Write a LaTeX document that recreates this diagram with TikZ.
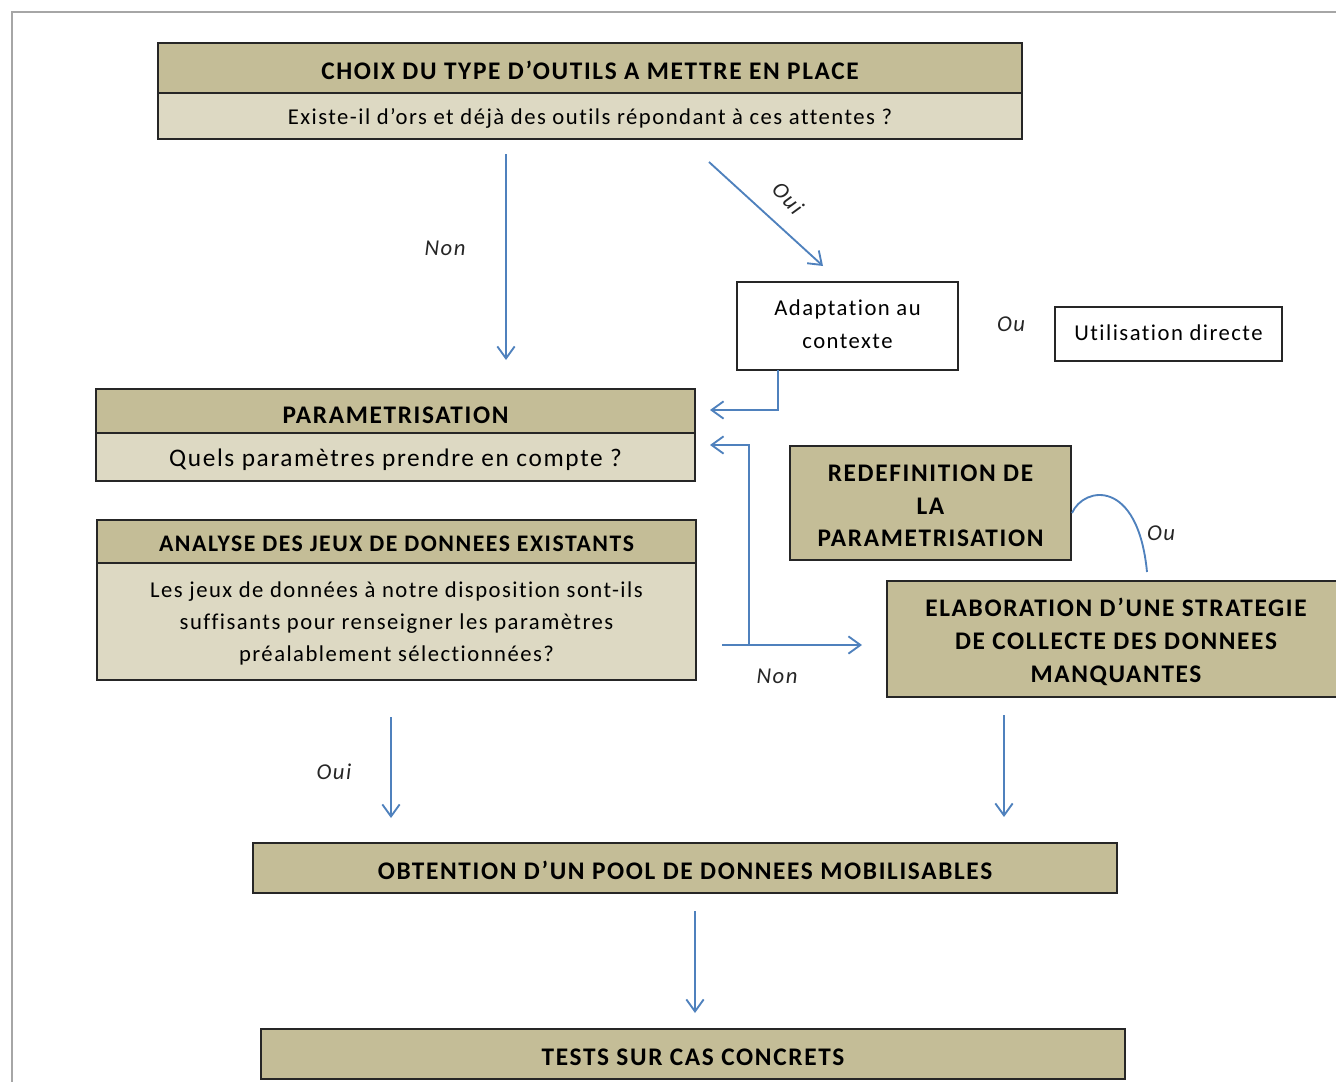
\documentclass[tikz,border=0pt]{standalone}
\usepackage{fontspec}
\setmainfont{Carlito}[LetterSpace=6.5,Ligatures=NoCommon]
\usetikzlibrary{arrows.meta,calc}
\definecolor{tanD}{HTML}{C4BD97}
\definecolor{tanL}{HTML}{DDD9C3}
\definecolor{arrblue}{HTML}{4F81BD}
\definecolor{framegray}{HTML}{A6A6A6}
% name, box style, text style, x1, y1, x2, y2, text y-offset (px), text
\newcommand\mybox[9]{%
  \pgfmathsetmacro\bw{(#6-#4)*0.75}%
  \pgfmathsetmacro\bh{(#7-#5)*0.75}%
  \node[#2, minimum width=\bw pt, minimum height=\bh pt] (#1) at ({(#4+#6)/2},{(#5+#7)/2}) {};
  \node[#3] (#1-t) at ($(#1.center)+(0,#8)$) {#9};}
\tikzset{
  box/.style={draw=black!85, line width=1.4pt, inner sep=0pt, outer sep=0pt},
  hdr/.style={box, fill=tanD},
  sub/.style={box, fill=tanL},
  wbox/.style={box, fill=white},
  hdrT/.style={align=center, inner sep=0pt, font=\fontsize{19}{24.5}\selectfont\bfseries},
  hdrST/.style={align=center, inner sep=0pt, font=\fontsize{17.8}{22}\selectfont\bfseries},
  subT/.style={align=center, inner sep=0pt, font=\fontsize{17}{23.8}\selectfont},
  subLT/.style={align=center, inner sep=0pt, font=\fontsize{19}{24}\selectfont},
  wT/.style={align=center, inner sep=0pt, font=\fontsize{17}{24.8}\selectfont},
  arr/.style={draw=arrblue, line width=1.4pt, -{Straight Barb[length=9pt,width=13pt,line width=1.4pt]}},
  blueline/.style={draw=arrblue, line width=1.4pt},
  lbl/.style={font=\fontsize{17}{20}\selectfont\itshape, text=black!85, inner sep=1pt}
}
\begin{document}
\begin{tikzpicture}[x=0.75pt,y=-0.75pt]
\useasboundingbox (0,0) rectangle (1336,1082);
\draw[framegray, line width=1.5pt] (12,1082) -- (12,12) -- (1336,12);

\mybox{choixH}{hdr}{hdrT}{158}{43}{1022}{93}{2}{CHOIX DU TYPE D’OUTILS A METTRE EN PLACE}
\mybox{choixB}{sub}{subT}{158}{93}{1022}{139}{2}{Existe-il d’ors et déjà des outils répondant à ces attentes ?}
\mybox{adapt}{wbox}{wT}{737}{282}{958}{370}{-1.5}{Adaptation au\\contexte}
\mybox{util}{wbox}{wT}{1055}{307}{1282}{361}{-1}{Utilisation directe}
\node[lbl] (ou1) at (1011,324) {Ou};
\mybox{paramH}{hdr}{hdrT}{96}{389}{695}{433}{4}{PARAMETRISATION}
\mybox{paramB}{sub}{subLT}{96}{433}{695}{481}{3}{Quels paramètres prendre en compte ?}
\mybox{redef}{hdr}{hdrT}{790}{446}{1071}{560}{3}{REDEFINITION DE\\LA\\PARAMETRISATION}
\mybox{anaH}{hdr}{hdrST}{97}{520}{696}{563}{2}{ANALYSE DES JEUX DE DONNEES EXISTANTS}
\mybox{anaB}{sub}{subT}{97}{563}{696}{680}{2}{Les jeux de données à notre disposition sont-ils\\suffisants pour renseigner les paramètres\\préalablement sélectionnées?}
\mybox{elab}{hdr}{hdrT}{887}{581}{1345}{697}{3}{ELABORATION D’UNE STRATEGIE\\DE COLLECTE DES DONNEES\\MANQUANTES}
\mybox{obt}{hdr}{hdrT}{253}{843}{1117}{893}{2}{OBTENTION D’UN POOL DE DONNEES MOBILISABLES}
\mybox{tests}{hdr}{hdrT}{261}{1029}{1125}{1079}{3}{TESTS SUR CAS CONCRETS}

% connectors
\coordinate (a1s) at (506,154); \coordinate (a1e) at (506,360);
\draw[arr] (a1s) -- (a1e);
\node[lbl] (non1) at (445,248) {Non};

\coordinate (a2s) at (709,162); \coordinate (a2e) at (823,266);
\draw[arr] (a2s) -- (a2e);
\node[lbl, rotate=-47] (oui1) at (788,198) {Oui};

\coordinate (p1) at (710,410);
\draw[arr] ($(adapt.south west)+(41,0)$) |- (p1);

\coordinate (nbB) at (749,645);
\coordinate (nbT) at (710,445);
\coordinate (nbL) at (722,645);
\coordinate (nbR) at (862,645);
\draw[arr] (nbB) |- (nbT);
\draw[arr] (nbL) -- (nbR);
\node[lbl] (non2) at (777,676) {Non};

\draw[blueline] ($(redef.east)+(1,10)$) .. controls (1084,486) and (1138,478) .. (1147,572);
\node[lbl] (ou2) at (1161,533) {Ou};

\coordinate (a3s) at (391,717); \coordinate (a3e) at (391,818);
\draw[arr] (a3s) -- (a3e);
\node[lbl] (oui2) at (334,772) {Oui};

\coordinate (a4s) at (1004,715); \coordinate (a4e) at (1004,817);
\draw[arr] (a4s) -- (a4e);

\coordinate (a5s) at (695,911); \coordinate (a5e) at (695,1013);
\draw[arr] (a5s) -- (a5e);
\end{tikzpicture}
\end{document}
